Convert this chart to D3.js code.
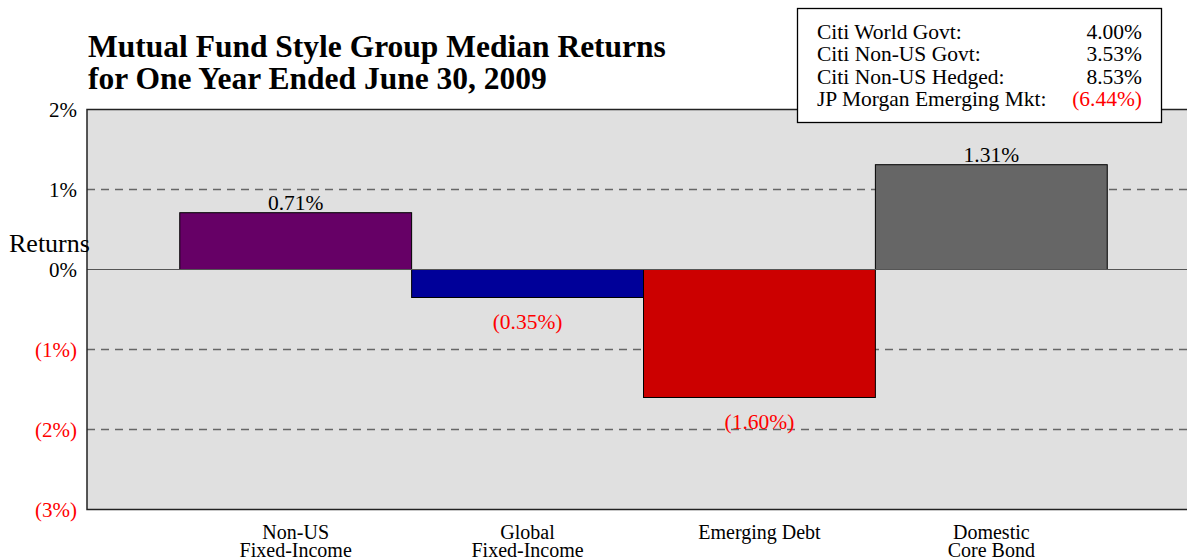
<!DOCTYPE html>
<html>
<head>
<meta charset="utf-8">
<script src="https://cdn.jsdelivr.net/npm/d3@7"></script>
<style>
  body { margin: 0; background: #fff; }
  svg { display: block; font-family: "Liberation Serif", "Times New Roman", serif; }
</style>
</head>
<body>
<div id="chart"></div>
<script>
// data
const categories = [["Non-US", "Fixed-Income"], ["Global", "Fixed-Income"], ["Emerging Debt"], ["Domestic", "Core Bond"]]
const returns = [0.71, -0.35, -1.60, 1.31]
const barColors = ["#660066", "#000099", "#cc0000", "#666666"]
const yTicks = [2, 1, 0, -1, -2, -3]
const gridTicks = [1, -1, -2]
const benchNames = ["Citi World Govt:", "Citi Non-US Govt:", "Citi Non-US Hedged:", "JP Morgan Emerging Mkt:"]
const benchValues = [4.00, 3.53, 8.53, -6.44]

const width = 1187
const height = 559

const svg = d3.select("#chart").append("svg")
  .attr("width", width)
  .attr("height", height)

const fmt = v => v < 0 ? "(" + Math.abs(v).toFixed(2) + "%)" : v.toFixed(2) + "%"
const red = "#ff0000"

// scales - the plot runs off the right edge of the window
const x = d3.scaleBand()
  .domain(d3.range(returns.length))
  .range([87, 1200])
  .paddingInner(0)
  .paddingOuter(0.4)

const y = d3.scaleLinear().domain([-3, 2]).range([509.5, 109.5])

// plot background
svg.append("rect")
  .attr("x", 87)
  .attr("y", y(2))
  .attr("width", 1200 - 87)
  .attr("height", y(-3) - y(2))
  .attr("fill", "#e0e0e0")

// dashed grid
svg.selectAll(".grid")
  .data(gridTicks)
  .enter()
  .append("line")
  .attr("x1", 87)
  .attr("x2", 1200)
  .attr("y1", d => y(d))
  .attr("y2", d => y(d))
  .attr("stroke", "#666")
  .attr("stroke-width", 1.3)
  .attr("stroke-dasharray", "8,6")

// bars
svg.selectAll(".bar")
  .data(returns)
  .enter()
  .append("rect")
  .attr("x", (d, i) => x(i))
  .attr("width", x.bandwidth())
  .attr("y", d => y(Math.max(0, d)))
  .attr("height", d => Math.abs(y(d) - y(0)))
  .attr("fill", (d, i) => barColors[i])
  .attr("stroke", "#000")
  .attr("stroke-width", 1)

// zero line
svg.append("line")
  .attr("x1", 87).attr("x2", 1200)
  .attr("y1", y(0)).attr("y2", y(0))
  .attr("stroke", "#555")
  .attr("stroke-width", 1.2)

// frame: top, left, bottom
svg.append("path")
  .attr("d", `M1200,${y(2)}H87V${y(-3)}H1200`)
  .attr("fill", "none")
  .attr("stroke", "#222")
  .attr("stroke-width", 1.5)

// bar value labels
svg.selectAll(".val")
  .data(returns)
  .enter()
  .append("text")
  .attr("x", (d, i) => x(i) + x.bandwidth() / 2)
  .attr("y", d => d >= 0 ? y(d) - 3 : y(d) + 31)
  .attr("text-anchor", "middle")
  .attr("font-size", "21.5px")
  .attr("fill", d => d < 0 ? red : "#000")
  .text(fmt)

// y axis labels
svg.selectAll(".ytick")
  .data(yTicks)
  .enter()
  .append("text")
  .attr("x", 77)
  .attr("y", d => y(d) + 7)
  .attr("text-anchor", "end")
  .attr("font-size", "21px")
  .attr("fill", d => d < 0 ? red : "#000")
  .text(d => d < 0 ? "(" + Math.abs(d) + "%)" : d + "%")

svg.append("text")
  .attr("x", 9)
  .attr("y", 252)
  .attr("font-size", "26px")
  .text("Returns")

// category labels
const cat = svg.selectAll(".cat")
  .data(categories)
  .enter()
  .append("text")
  .attr("text-anchor", "middle")
  .attr("font-size", "20px")
  .attr("transform", (d, i) => "translate(" + (x(i) + x.bandwidth() / 2) + ",539)")

cat.selectAll("tspan")
  .data(d => d)
  .enter()
  .append("tspan")
  .attr("x", 0)
  .attr("y", (d, i) => i * 18)
  .text(d => d)

// title
const title = svg.append("text")
  .attr("font-size", "31.5px")
  .attr("font-weight", "bold")
title.append("tspan").attr("x", 88).attr("y", 57).text("Mutual Fund Style Group Median Returns")
title.append("tspan").attr("x", 88).attr("y", 89).text("for One Year Ended June 30, 2009")

// benchmark box
svg.append("rect")
  .attr("x", 797.5)
  .attr("y", 8.5)
  .attr("width", 364)
  .attr("height", 114)
  .attr("fill", "#fff")
  .attr("stroke", "#000")
  .attr("stroke-width", 1.3)

svg.selectAll(".bname")
  .data(benchNames)
  .enter()
  .append("text")
  .attr("x", 817)
  .attr("y", (d, i) => 39 + i * 22.3)
  .attr("font-size", "21.5px")
  .text(d => d)

svg.selectAll(".bval")
  .data(benchValues)
  .enter()
  .append("text")
  .attr("x", 1142)
  .attr("y", (d, i) => 39 + i * 22.3)
  .attr("text-anchor", "end")
  .attr("font-size", "21.5px")
  .attr("fill", d => d < 0 ? red : "#000")
  .text(fmt)
</script>
</body>
</html>
